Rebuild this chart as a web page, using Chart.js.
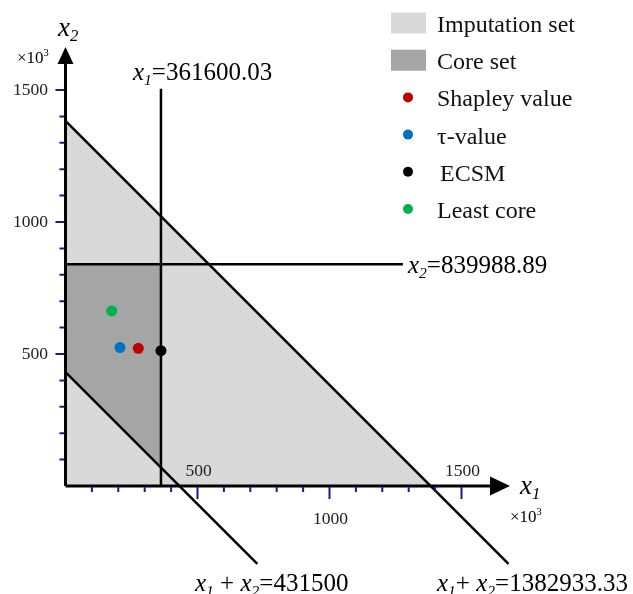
<!DOCTYPE html>
<html>
<head>
<meta charset="utf-8">
<script src="https://cdn.jsdelivr.net/npm/chart.js@4"></script>
<style>
  html, body { margin: 0; padding: 0; background: #fff; }
  #chart { display: block; }
</style>
</head>
<body>
<canvas id="chart" width="633" height="594"></canvas>
<script>
// values in thousands
const imputationSet = [[0, 0], [1382.93, 0], [0, 1382.93]];
const coreSet = [[0, 431.5], [0, 839.99], [361.6, 839.99], [361.6, 69.9]];

const lineX1 = [[361.6, 0], [361.6, 1505]];
const lineX2 = [[0, 839.99], [1278, 839.99]];
const lineSumLow = [[0, 431.5], [726.5, -295]];
const lineSumHigh = [[0, 1382.93], [1678, -295]];

const shapley = [[275.8, 521.6]];
const tauValue = [[206.4, 525]];
const ecsm = [[361.6, 512.5]];
const leastCore = [[175, 663]];

const xTicks = [100, 200, 300, 400, 500, 600, 700, 800, 900, 1000, 1100, 1200, 1300, 1400, 1500];
const yTicks = [100, 200, 300, 400, 500, 600, 700, 800, 900, 1000, 1100, 1200, 1300, 1400, 1500];
const majorTicks = [500, 1000, 1500];

const legendNames = ["Imputation set", "Core set", "Shapley value", "\u03c4-value", "ECSM", "Least core"];

const LIGHT = "#d9d9d9", DARK = "#a5a5a5";
const RED = "#c00000", BLUE = "#0070c0", GREEN = "#00b050", BLACK = "#000000";
const TICK = "#1a1a8a";
const SERIF = "'Liberation Serif', 'Times New Roman', serif";

const pts = arr => arr.map(p => ({ x: p[0], y: p[1] }));
const closed = arr => pts(arr.concat([arr[0]]));

function boundary(data) {
  return { data: pts(data), showLine: true, borderColor: BLACK, borderWidth: 2.5, pointRadius: 0, fill: false, order: 1 };
}
function marker(data, color) {
  return { data: pts(data), backgroundColor: color, borderColor: color, pointRadius: 5.5, borderWidth: 0, order: 0 };
}

// rich text: [text, style] style '' normal, 'i' italic, 's' italic subscript, 'p' superscript
function rich(ctx, parts, x, y, size) {
  let cx = x;
  parts.forEach(([t, st]) => {
    let sz = size, dy = 0, it = "";
    if (st === "i") it = "italic ";
    if (st === "s") { it = "italic "; sz = size * 0.62; dy = size * 0.2; }
    if (st === "p") { sz = size * 0.62; dy = -size * 0.4; }
    ctx.font = it + sz + "px " + SERIF;
    ctx.fillText(t, cx, y + dy);
    cx += ctx.measureText(t).width;
  });
}

const decorations = {
  id: "decorations",
  afterDatasetsDraw(chart) {
    const ctx = chart.ctx;
    const xs = chart.scales.x, ys = chart.scales.y;
    const ox = xs.getPixelForValue(0), oy = ys.getPixelForValue(0);
    ctx.save();

    // axes
    ctx.strokeStyle = BLACK;
    ctx.lineWidth = 3;
    ctx.beginPath();
    ctx.moveTo(ox, oy);
    ctx.lineTo(492, oy);
    ctx.moveTo(ox, oy);
    ctx.lineTo(ox, 64);
    ctx.stroke();
    ctx.fillStyle = BLACK;
    ctx.beginPath();
    ctx.moveTo(510, oy); ctx.lineTo(490, oy - 9.5); ctx.lineTo(490, oy + 9.5); ctx.closePath();
    ctx.fill();
    ctx.beginPath();
    ctx.moveTo(ox, 47); ctx.lineTo(ox - 8, 64); ctx.lineTo(ox + 8, 64); ctx.closePath();
    ctx.fill();

    // ticks
    ctx.strokeStyle = TICK;
    ctx.lineWidth = 2;
    ctx.beginPath();
    xTicks.forEach(v => {
      const px = xs.getPixelForValue(v);
      ctx.moveTo(px, oy + 1);
      ctx.lineTo(px, oy + (majorTicks.includes(v) ? 13 : 6));
    });
    yTicks.forEach(v => {
      const py = ys.getPixelForValue(v);
      ctx.moveTo(ox - 1, py);
      ctx.lineTo(ox - (majorTicks.includes(v) ? 10 : 6), py);
    });
    ctx.stroke();

    // tick labels
    ctx.fillStyle = "#222";
    ctx.font = "17.5px " + SERIF;
    ctx.textBaseline = "middle";
    ctx.textAlign = "right";
    majorTicks.forEach(v => ctx.fillText(String(v), 48, ys.getPixelForValue(v)));
    ctx.textAlign = "center";
    ctx.fillText("500", xs.getPixelForValue(500) + 1, oy - 15);
    ctx.fillText("1500", xs.getPixelForValue(1500) + 1, oy - 15);
    ctx.fillText("1000", xs.getPixelForValue(1000) + 1, oy + 33);

    // unit labels and axis titles
    ctx.textAlign = "left";
    ctx.textBaseline = "alphabetic";
    ctx.fillStyle = BLACK;
    rich(ctx, [["\u00d710", ""], ["3", "p"]], 17, 63, 17);
    rich(ctx, [["\u00d710", ""], ["3", "p"]], 510, 522, 17);
    rich(ctx, [["x", "i"], ["2", "s"]], 58, 36, 27);
    rich(ctx, [["x", "i"], ["1", "s"]], 520, 494, 27);

    // line labels
    rich(ctx, [["x", "i"], ["1", "s"], ["=361600.03", ""]], 133, 80, 25);
    rich(ctx, [["x", "i"], ["2", "s"], ["=839988.89", ""]], 408, 273, 25);
    rich(ctx, [["x", "i"], ["1", "s"], [" + ", ""], ["x", "i"], ["2", "s"], ["=431500", ""]], 195, 591, 25);
    rich(ctx, [["x", "i"], ["1", "s"], ["+ ", ""], ["x", "i"], ["2", "s"], ["=1382933.33", ""]], 437, 591, 25);

    // legend
    const swatches = [LIGHT, DARK];
    const dots = [RED, BLUE, BLACK, GREEN];
    ctx.font = "24px " + SERIF;
    legendNames.forEach((name, i) => {
      const base = 32 + 37.2 * i;
      if (i < 2) {
        ctx.fillStyle = swatches[i];
        ctx.fillRect(391, base - 19.5, 35, 21);
      } else {
        ctx.fillStyle = dots[i - 2];
        ctx.beginPath();
        ctx.arc(408, base - 9, 5, 0, Math.PI * 2);
        ctx.fill();
      }
      ctx.fillStyle = "#111";
      ctx.fillText(name, name === "ECSM" ? 440 : 437, base);
    });

    ctx.restore();
  }
};

new Chart(document.getElementById("chart"), {
  type: "scatter",
  data: {
    datasets: [
      marker(shapley, RED),
      marker(tauValue, BLUE),
      marker(ecsm, BLACK),
      marker(leastCore, GREEN),
      boundary(lineX1),
      boundary(lineX2),
      boundary(lineSumLow),
      boundary(lineSumHigh),
      { data: closed(coreSet), showLine: true, fill: "shape", backgroundColor: DARK, borderWidth: 0, pointRadius: 0, order: 2 },
      { data: closed(imputationSet), showLine: true, fill: "shape", backgroundColor: LIGHT, borderWidth: 0, pointRadius: 0, order: 3 }
    ]
  },
  options: {
    responsive: false,
    animation: false,
    layout: { padding: 0, autoPadding: false },
    plugins: { legend: { display: false }, tooltip: { enabled: false }, title: { display: false } },
    scales: {
      x: { type: "linear", min: -248.1, max: 2149.6, display: false },
      y: { type: "linear", min: -409.1, max: 1840.9, display: false }
    }
  },
  plugins: [decorations]
});
</script>
</body>
</html>
